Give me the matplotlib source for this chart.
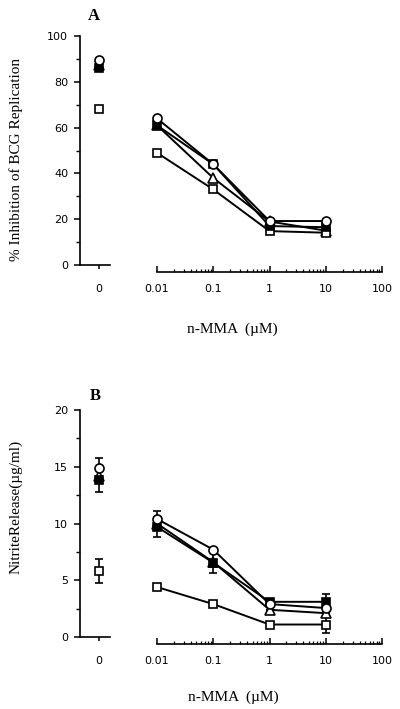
import matplotlib
matplotlib.use("Agg")
import matplotlib.pyplot as plt
from matplotlib.ticker import MultipleLocator, LogLocator, NullFormatter, FixedLocator

# concentrations of n-MMA (uM); the 0 dose is drawn on its own little axis
conc = [0.01, 0.1, 1, 10]
xticks_log = [0.01, 0.1, 1, 10, 100]
xticklabels_log = ["0.01", "0.1", "1", "10", "100"]

# panel A: % inhibition of BCG replication
a_circle0, a_circle = 89.5, [64, 44, 19.2, 19.2]
a_fsq0, a_fsq = 86, [61, 44, 17, 16.5]
a_tri0, a_tri = 87.5, [61, 38, 19, 15]
a_osq0, a_osq = 68, [49, 33, 14.8, 14.1]

# panel B: nitrite release (ug/ml) with errors
b_circle0, b_circle0_err = 14.9, 0.9
b_circle, b_circle_err = [10.4, 7.7, 2.9, 2.55], [0.7, 0, 0, 0]
b_fsq0, b_fsq0_err = 13.8, 1.0
b_fsq, b_fsq_err = [9.7, 6.55, 3.1, 3.1], [0.9, 0.95, 0, 0.7]
b_tri0, b_tri0_err = 14.2, 0
b_tri, b_tri_err = [10.0, 6.6, 2.4, 2.1], [0, 0, 0, 0]
b_osq0, b_osq0_err = 5.8, 1.05
b_osq, b_osq_err = [4.4, 2.9, 1.1, 1.1], [0, 0, 0, 0.75]

serif = "Liberation Serif"
sans = "DejaVu Sans"
tick_fs = 8

styles = {
    "tri": dict(marker="^", mfc="white", ms=6.5),
    "osq": dict(marker="s", mfc="white", ms=6),
    "fsq": dict(marker="s", mfc="black", ms=6),
    "circle": dict(marker="o", mfc="white", ms=6.5),
}

fig = plt.figure(figsize=(4, 7.09), dpi=100)
W, H = 400, 709


def make_axes(top, bottom, ymax, major, minor):
    h = (bottom - top) / H
    b = 1 - bottom / H
    ax0 = fig.add_axes([80 / W, b, 30 / W, h])
    ax1 = fig.add_axes([157 / W, b, 225 / W, h])
    for ax in (ax0, ax1):
        ax.set_ylim(0, ymax)
        ax.spines["top"].set_visible(False)
        ax.spines["right"].set_visible(False)
        ax.patch.set_alpha(0)
    ax0.set_xlim(-1.9, 1.1)
    ax0.set_xticks([0])
    ax0.set_xticklabels(["0"], fontfamily=sans, fontsize=tick_fs)
    ax0.yaxis.set_major_locator(MultipleLocator(major))
    ax0.yaxis.set_minor_locator(MultipleLocator(minor))
    ax0.tick_params(axis="y", which="major", direction="out", length=4.5, width=1.1,
                    labelsize=tick_fs, pad=4)
    ax0.tick_params(axis="y", which="minor", direction="out", length=3, width=1)
    ax0.tick_params(axis="x", direction="out", length=3, width=1.1, pad=11)
    for lab in ax0.get_yticklabels():
        lab.set_fontfamily(sans)
    for s in ("left", "bottom"):
        ax0.spines[s].set_linewidth(1.2)

    ax1.set_xscale("log")
    ax1.set_xlim(0.01, 100)
    ax1.spines["left"].set_visible(False)
    ax1.spines["bottom"].set_position(("outward", 5))
    ax1.spines["bottom"].set_linewidth(1.2)
    ax1.set_yticks([])
    ax1.xaxis.set_major_locator(FixedLocator(xticks_log))
    ax1.xaxis.set_minor_locator(LogLocator(base=10, subs=range(2, 10)))
    ax1.xaxis.set_minor_formatter(NullFormatter())
    ax1.set_xticklabels(xticklabels_log, fontfamily=sans, fontsize=tick_fs)
    ax1.tick_params(axis="x", which="major", direction="in", length=4.5, width=1.1, pad=9)
    ax1.tick_params(axis="x", which="minor", direction="in", length=2.5, width=0.9)
    return ax0, ax1


# ---- panel A ----
axA0, axA1 = make_axes(36, 265, 100, 20, 10)
seriesA = [("tri", a_tri0, a_tri), ("osq", a_osq0, a_osq),
           ("fsq", a_fsq0, a_fsq), ("circle", a_circle0, a_circle)]
for key, v0, vals in seriesA:
    st = styles[key]
    axA0.plot([0], [v0], linestyle="none", mec="black", mew=1.2, clip_on=False, **st)
    axA1.plot(conc, vals, color="black", lw=1.4, mec="black", mew=1.2, clip_on=False, **st)

# ---- panel B ----
axB0, axB1 = make_axes(410, 637, 20, 5, 2.5)
seriesB = [("tri", b_tri0, b_tri0_err, b_tri, b_tri_err),
           ("osq", b_osq0, b_osq0_err, b_osq, b_osq_err),
           ("fsq", b_fsq0, b_fsq0_err, b_fsq, b_fsq_err),
           ("circle", b_circle0, b_circle0_err, b_circle, b_circle_err)]
for key, v0, e0, vals, errs in seriesB:
    st = styles[key]
    axB0.errorbar([0], [v0], yerr=[e0], linestyle="none", color="black", ecolor="black",
                  elinewidth=1.2, capsize=3, capthick=1.4, mec="black", mew=1.2,
                  clip_on=False, **st)
    axB1.errorbar(conc, vals, yerr=errs, color="black", lw=1.4, ecolor="black",
                  elinewidth=1.2, capsize=3, capthick=1.4, mec="black", mew=1.2,
                  clip_on=False, **st)

# text
fig.text(94 / W, 1 - 16 / H, "A", fontfamily=serif, fontweight="bold", fontsize=12,
         ha="center", va="center")
fig.text(95 / W, 1 - 396 / H, "B", fontfamily=serif, fontweight="bold", fontsize=12,
         ha="center", va="center")
fig.text(16 / W, 1 - 159 / H, "% Inhibition of BCG Replication", fontfamily=serif,
         fontsize=11, rotation=90, ha="center", va="center")
fig.text(16 / W, 1 - 507 / H, "NitriteRelease(\u00b5g/ml)", fontfamily=serif,
         fontsize=11, rotation=90, ha="center", va="center")
fig.text(232 / W, 1 - 329 / H, "n-MMA  (\u00b5M)", fontfamily=serif, fontsize=11,
         ha="center", va="center")
fig.text(233 / W, 1 - 697 / H, "n-MMA  (\u00b5M)", fontfamily=serif, fontsize=11,
         ha="center", va="center")

fig.savefig("out.png", dpi=100)
